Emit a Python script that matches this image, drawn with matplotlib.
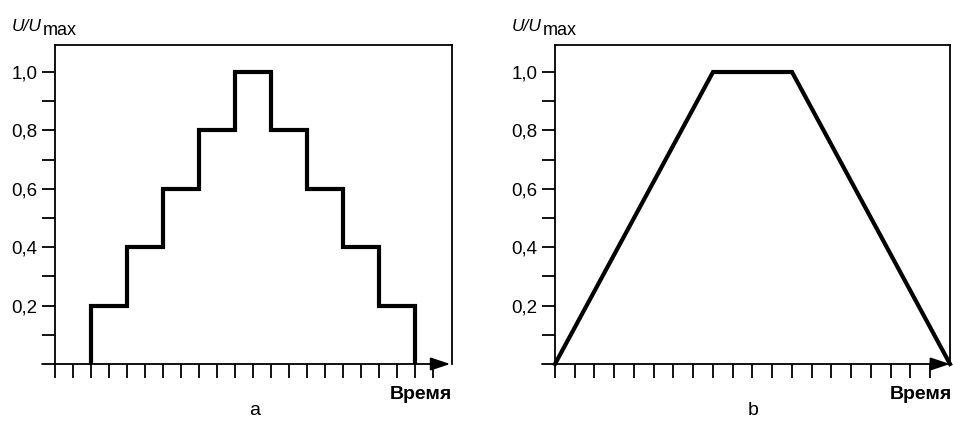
import numpy as np
import matplotlib
matplotlib.use("Agg")
import matplotlib.pyplot as plt

plt.rcParams["font.family"] = ["Liberation Sans", "DejaVu Sans"]

# stepwise profile (a): step edges in time divisions and the level of each step
step_edges = [2, 4, 6, 8, 10, 12, 14, 16, 18, 20]
step_levels = [0.2, 0.4, 0.6, 0.8, 1.0, 0.8, 0.6, 0.4, 0.2]

# trapezoid profile (b): corner points
ramp_t = [0, 8, 12, 20]
ramp_u = [0.0, 1.0, 1.0, 0.0]

ytick_major = [0.2, 0.4, 0.6, 0.8, 1.0]
ytick_labels = ["0,2", "0,4", "0,6", "0,8", "1,0"]
ytick_minor = [0.1, 0.3, 0.5, 0.7, 0.9]

W, H = 954, 421
fig = plt.figure(figsize=(W / 100, H / 100), dpi=100)


def px(x, y):
    return x / W, 1 - y / H


def make_axes(left, right, top, bottom, xmax, n_xticks, axis_start, arrow_end):
    ax = fig.add_axes([left / W, 1 - bottom / H, (right - left) / W, (bottom - top) / H])
    ax.set_xlim(0, xmax)
    ax.set_ylim(0, 1.0925)
    for side in ("top", "right", "left"):
        ax.spines[side].set_linewidth(1.3)
    ax.spines["bottom"].set_visible(False)

    ax.set_yticks(ytick_major)
    ax.set_yticklabels(ytick_labels, fontsize=13.5)
    ax.set_yticks(ytick_minor, minor=True)
    ax.tick_params(axis="y", which="both", direction="out", length=9.5, width=1.3, pad=3)

    ax.set_xticks(np.arange(n_xticks))
    ax.set_xticklabels([])
    ax.tick_params(axis="x", which="both", direction="out", length=10, width=1.3)

    # time axis with arrowhead, running slightly left of the frame
    ax.annotate("", xy=(arrow_end, 0), xytext=(axis_start, 0),
                xycoords="data", textcoords="data", annotation_clip=False,
                arrowprops=dict(arrowstyle="-|>,head_length=1.2,head_width=0.4",
                                color="black", lw=1.3, shrinkA=0, shrinkB=0))
    return ax


ax1 = make_axes(55, 452, 45, 364, 22.05, 22, -0.72, 21.95)
ax1.stairs(step_levels, step_edges, baseline=0, color="black", linewidth=3,
           joinstyle="miter", clip_on=False)

ax2 = make_axes(555, 950, 45, 364, 20.0, 20, -0.66, 20.0)
ax2.plot(ramp_t, ramp_u, color="black", linewidth=3, solid_joinstyle="miter",
         clip_on=False)

for x0, xr, xc, letter in ((12, 452, 255, "a"), (512, 952, 753, "b")):
    fig.text(*px(x0, 31), "U/U", fontsize=12.5, style="italic", va="baseline")
    fig.text(*px(x0 + 31, 35), "max", fontsize=13, va="baseline")
    fig.text(*px(xr, 399), "Время", fontsize=14, fontweight="bold",
             ha="right", va="baseline")
    fig.text(*px(xc, 415), letter, fontsize=14, ha="center", va="baseline")

fig.savefig("out.png", dpi=100)
